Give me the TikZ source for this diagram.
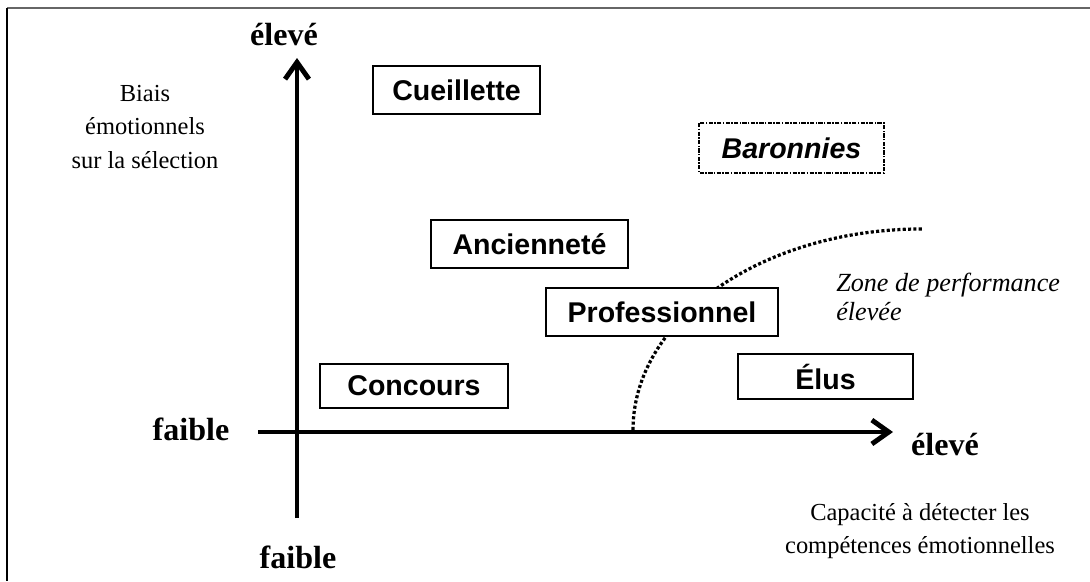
\documentclass[tikz,border=0pt]{standalone}
\usepackage{fontspec}
\setmainfont{Liberation Serif}
\setsansfont{Liberation Sans}
\usetikzlibrary{positioning, arrows.meta}

\begin{document}
\begin{tikzpicture}[
    x=0.025cm, y=-0.025cm,
    box/.style={rectangle, draw=black, line width=1.3pt, fill=white, font=\sffamily\bfseries\fontsize{20.3}{24}\selectfont, inner sep=0pt, minimum height=1.2cm},
    axis/.style={line width=3.5pt, -{Straight Barb[length=12pt, width=17pt]}},
    axislabel/.style={font=\bfseries\fontsize{22.8}{26}\selectfont, inner sep=0pt},
    title/.style={font=\fontsize{17.4}{23.5}\selectfont, align=center, inner sep=0pt},
    zone/.style={line width=2.3pt, dash pattern=on 2.2pt off 1.6pt}
]
    \useasboundingbox (0,0) rectangle (1090,581);

    % Frame (cropped)
    \draw[black!60, line width=1.5pt] (7,8) -- (1090,8);
    \draw[line width=1.2pt] (7,8) -- (7,581);

    % Axes
    \coordinate (ybot) at (297,518);
    \coordinate (ytop) at (297,58);
    \coordinate (xleft) at (258,432);
    \coordinate (xright) at (893,432);
    \draw[axis] (ybot) -- (ytop);
    \draw[axis] (xleft) -- (xright);

    \node[axislabel, anchor=base] (ytoplbl) at (284,45) {élevé};
    \node[axislabel, anchor=base] (xrightlbl) at (945,455) {élevé};
    \node[axislabel, anchor=base] (xleftlbl) at (191,440) {faible};
    \node[axislabel, anchor=base] (ybotlbl) at (298,568) {faible};

    \node[title] (ytitle) at (145,127) {Biais\\émotionnels\\sur la sélection};
    \node[title] (xtitle) at (920,531) {Capacité à détecter les\\compétences émotionnelles};

    % Zone de performance
    \draw[zone] (633,430) arc[start angle=180, end angle=90, x radius=7.225cm, y radius=5.025cm];
    \node[font=\itshape\fontsize{18.6}{21}\selectfont, align=left, anchor=west, inner sep=0pt] (zonelbl) at (836,297) {Zone de performance\\élevée};

    % Modes de sélection
    \node[box, minimum width=4.175cm] (cueillette) at (456.5,90) {Cueillette};
    \node[box, minimum width=4.575cm, draw=none, font=\sffamily\bfseries\itshape\fontsize{20.3}{24}\selectfont] (baronnies) at (791.5,148) {Baronnies};
    \draw[line width=1.5pt, dash pattern=on 3pt off 1pt on 1pt off 1pt] (baronnies.north west) rectangle (baronnies.south east);
    \node[box, minimum width=4.925cm] (anciennete) at (529.5,244) {Ancienneté};
    \node[box, minimum width=5.8cm] (professionnel) at (662,312) {Professionnel};
    \node[box, minimum width=4.7cm, minimum height=1.1cm] (concours) at (414,386) {Concours};
    \node[box, minimum width=4.375cm, minimum height=1.125cm] (elus) at (825.5,376.5) {Élus};

\end{tikzpicture}
\end{document}
